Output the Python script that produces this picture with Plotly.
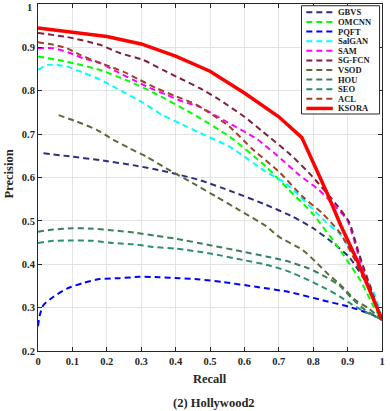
import plotly.graph_objects as go

# Method names in legend order
names = ["GBVS", "OMCNN", "PQFT", "SalGAN", "SAM", "SG-FCN", "VSOD", "HOU", "SEO", "ACL", "KSORA"]
colors = ["#2E2E80", "#00FF00", "#0000FF", "#00FFFF", "#FF00FF", "#7F1F3F",
          "#5A6B3A", "#3D7F5A", "#2A9070", "#A0402A", "#FF0000"]

# axis ticks (the top "1" label is placed as an annotation, plotly hides it at the page edge)
x_ticks = [0, 0.1, 0.2, 0.3, 0.4, 0.5, 0.6, 0.7, 0.8, 0.9, 1]
x_labels = ["0", "0.1", "0.2", "0.3", "0.4", "0.5", "0.6", "0.7", "0.8", "0.9", "1"]
y_ticks = [0.2, 0.3, 0.4, 0.5, 0.6, 0.7, 0.8, 0.9, 1]
y_labels = ["0.2", "0.3", "0.4", "0.5", "0.6", "0.7", "0.8", "0.9", ""]
y_top_label = "1"

# Precision-recall curves
gbvs_x = [0.016, 0.1, 0.18, 0.28, 0.37, 0.47, 0.566, 0.66, 0.74, 0.8, 0.856, 0.904, 0.96, 1.0]
gbvs_y = [0.656, 0.648, 0.64, 0.628, 0.614, 0.594, 0.567, 0.538, 0.51, 0.483, 0.45, 0.417, 0.35, 0.272]

omcnn_x = [0, 0.084, 0.18, 0.267, 0.335, 0.46, 0.557, 0.663, 0.73, 0.798, 0.885, 0.942, 0.976, 1.0]
omcnn_y = [0.879, 0.867, 0.848, 0.821, 0.796, 0.742, 0.694, 0.625, 0.571, 0.517, 0.425, 0.356, 0.302, 0.272]

pqft_x = [0, 0.005, 0.016, 0.045, 0.084, 0.132, 0.18, 0.238, 0.296, 0.354, 0.412, 0.47, 0.537,
          0.634, 0.73, 0.827, 0.904, 0.971, 1.0]
pqft_y = [0.257, 0.282, 0.306, 0.325, 0.344, 0.357, 0.366, 0.368, 0.371, 0.37, 0.368, 0.365, 0.359,
          0.348, 0.336, 0.317, 0.302, 0.284, 0.272]

salgan_x = [0, 0.03, 0.084, 0.13, 0.18, 0.23, 0.3, 0.36, 0.42, 0.47, 0.557, 0.663, 0.72, 0.836, 0.88, 0.94, 0.981, 1.0]
salgan_y = [0.848, 0.86, 0.856, 0.842, 0.826, 0.805, 0.775, 0.745, 0.722, 0.703, 0.671, 0.613, 0.587, 0.498, 0.467, 0.39, 0.325, 0.272]

sam_x = [0, 0.045, 0.093, 0.132, 0.18, 0.229, 0.277, 0.315, 0.373, 0.421, 0.47, 0.547, 0.634, 0.711,
         0.759, 0.817, 0.865, 0.899, 0.913, 0.942, 1.0]
sam_y = [0.898, 0.898, 0.887, 0.875, 0.864, 0.844, 0.825, 0.81, 0.791, 0.775, 0.763, 0.729, 0.69, 0.64,
         0.606, 0.571, 0.533, 0.502, 0.471, 0.394, 0.272]

sgfcn_x = [0, 0.084, 0.18, 0.238, 0.306, 0.363, 0.412, 0.47, 0.52, 0.6, 0.653, 0.735, 0.798, 0.865,
           0.904, 0.933, 0.976, 1.0]
sgfcn_y = [0.933, 0.924, 0.906, 0.887, 0.871, 0.848, 0.829, 0.806, 0.783, 0.74, 0.706, 0.652, 0.602, 0.54,
           0.498, 0.425, 0.325, 0.272]

vsod_x = [0.06, 0.113, 0.171, 0.219, 0.267, 0.315, 0.373, 0.45, 0.518, 0.585, 0.663, 0.701, 0.769,
          0.812, 0.846, 0.875, 0.923, 0.962, 1.0]
vsod_y = [0.744, 0.729, 0.71, 0.687, 0.667, 0.648, 0.621, 0.587, 0.556, 0.525, 0.488, 0.463, 0.433,
          0.402, 0.375, 0.356, 0.317, 0.298, 0.272]

hou_x = [0, 0.045, 0.1, 0.16, 0.22, 0.28, 0.34, 0.4, 0.5, 0.595, 0.663, 0.72, 0.788, 0.836, 0.875,
         0.913, 0.952, 1.0]
hou_y = [0.475, 0.48, 0.483, 0.482, 0.478, 0.473, 0.466, 0.459, 0.444, 0.429, 0.418, 0.408, 0.39, 0.371,
         0.352, 0.321, 0.294, 0.272]

seo_x = [0, 0.045, 0.103, 0.16, 0.219, 0.277, 0.335, 0.402, 0.5, 0.595, 0.663, 0.72, 0.788, 0.836,
         0.875, 0.913, 0.952, 1.0]
seo_y = [0.449, 0.454, 0.455, 0.454, 0.449, 0.446, 0.44, 0.436, 0.425, 0.41, 0.399, 0.386, 0.363, 0.344,
         0.327, 0.307, 0.29, 0.272]

acl_x = [0, 0.045, 0.084, 0.122, 0.171, 0.209, 0.248, 0.296, 0.344, 0.402, 0.46, 0.557, 0.624, 0.701,
         0.769, 0.827, 0.88, 0.94, 1.0]
acl_y = [0.912, 0.906, 0.898, 0.883, 0.867, 0.856, 0.844, 0.825, 0.806, 0.787, 0.768, 0.717, 0.665, 0.613,
         0.556, 0.517, 0.47, 0.38, 0.272]

ksora_x = [0, 0.1, 0.2, 0.3, 0.4, 0.5, 0.6, 0.7, 0.767, 0.84, 0.88, 0.93, 0.97, 1.0]
ksora_y = [0.945, 0.936, 0.925, 0.908, 0.88, 0.845, 0.795, 0.74, 0.692, 0.565, 0.49, 0.405, 0.33, 0.272]

xs = [gbvs_x, omcnn_x, pqft_x, salgan_x, sam_x, sgfcn_x, vsod_x, hou_x, seo_x, acl_x, ksora_x]
ys = [gbvs_y, omcnn_y, pqft_y, salgan_y, sam_y, sgfcn_y, vsod_y, hou_y, seo_y, acl_y, ksora_y]

serif = "Liberation Serif"
axis_col = "#262626"
dash = "6px,4px"
tick_font = dict(family=serif, size=10.5, color=axis_col, weight="bold")

fig = go.Figure()
for name, x, y, c in zip(names, xs, ys, colors):
    if name == "KSORA":
        line = dict(color=c, width=3.5)
    else:
        line = dict(color=c, width=2, dash=dash, shape="spline", smoothing=0.6)
    fig.add_trace(go.Scatter(x=x, y=y, mode="lines", name=name, line=line,
                             showlegend=False, hoverinfo="skip"))

axis_common = dict(showgrid=True, gridcolor="#E3E3E3", gridwidth=1,
                   showline=True, linecolor=axis_col, linewidth=1, mirror="ticks",
                   ticks="inside", ticklen=4, tickcolor=axis_col,
                   zeroline=False, automargin=False, ticklabeloverflow="allow",
                   tickfont=tick_font)
fig.update_xaxes(range=[0, 1], tickvals=x_ticks, ticktext=x_labels, **axis_common)
fig.update_yaxes(range=[0.2, 1.0001], tickvals=y_ticks, ticktext=y_labels, **axis_common)

# hand-made legend box (plotly's legend rows are too tall for this size)
lx0, lx1, ly0, ly1 = 0.766, 0.993, 0.683, 0.995
shapes = [dict(type="rect", xref="paper", yref="paper", x0=lx0, x1=lx1, y0=ly0, y1=ly1,
               line=dict(color=axis_col, width=1), fillcolor="white", layer="above")]
annotations = []
row_h = 0.0277
for i, (name, c) in enumerate(zip(names, colors)):
    yy = 0.976 - i * row_h
    if name == "KSORA":
        ln = dict(color=c, width=3.5)
    else:
        ln = dict(color=c, width=2, dash=dash)
    shapes.append(dict(type="line", xref="paper", yref="paper", x0=0.78, x1=0.857, y0=yy, y1=yy,
                       line=ln, layer="above"))
    annotations.append(dict(xref="paper", yref="paper", x=0.866, y=yy, text=name, showarrow=False,
                            xanchor="left", yanchor="middle",
                            font=dict(family=serif, size=8.5, color="#1a1a1a", weight="bold")))

annotations += [
    dict(xref="paper", yref="y", x=-0.012, y=y_ticks[-1], text=y_top_label, showarrow=False,
         xanchor="right", yanchor="middle", yshift=-3, font=tick_font),
    dict(xref="paper", yref="paper", x=0.5, y=-0.082, text="Recall", showarrow=False,
         xanchor="center", yanchor="middle",
         font=dict(family=serif, size=12.5, color=axis_col, weight="bold")),
    dict(xref="paper", yref="paper", x=-0.083, y=0.51, text="Precision", showarrow=False,
         textangle=-90, xanchor="center", yanchor="middle",
         font=dict(family=serif, size=12.5, color=axis_col, weight="bold")),
    dict(xref="paper", yref="paper", x=0.512, y=-0.151, text="(2) Hollywood2", showarrow=False,
         xanchor="center", yanchor="middle",
         font=dict(family=serif, size=12.5, color=axis_col, weight="bold")),
]

fig.update_layout(width=390, height=411, margin=dict(l=38, r=8, t=4, b=60),
                  paper_bgcolor="white", plot_bgcolor="white", hovermode=False,
                  shapes=shapes, annotations=annotations)

# drop the page's default body margin so the 390x411 figure fills the window
fig.write_html("out.html", config={"displayModeBar": False},
               post_script="document.body.style.margin='0';document.body.style.overflow='hidden';")
